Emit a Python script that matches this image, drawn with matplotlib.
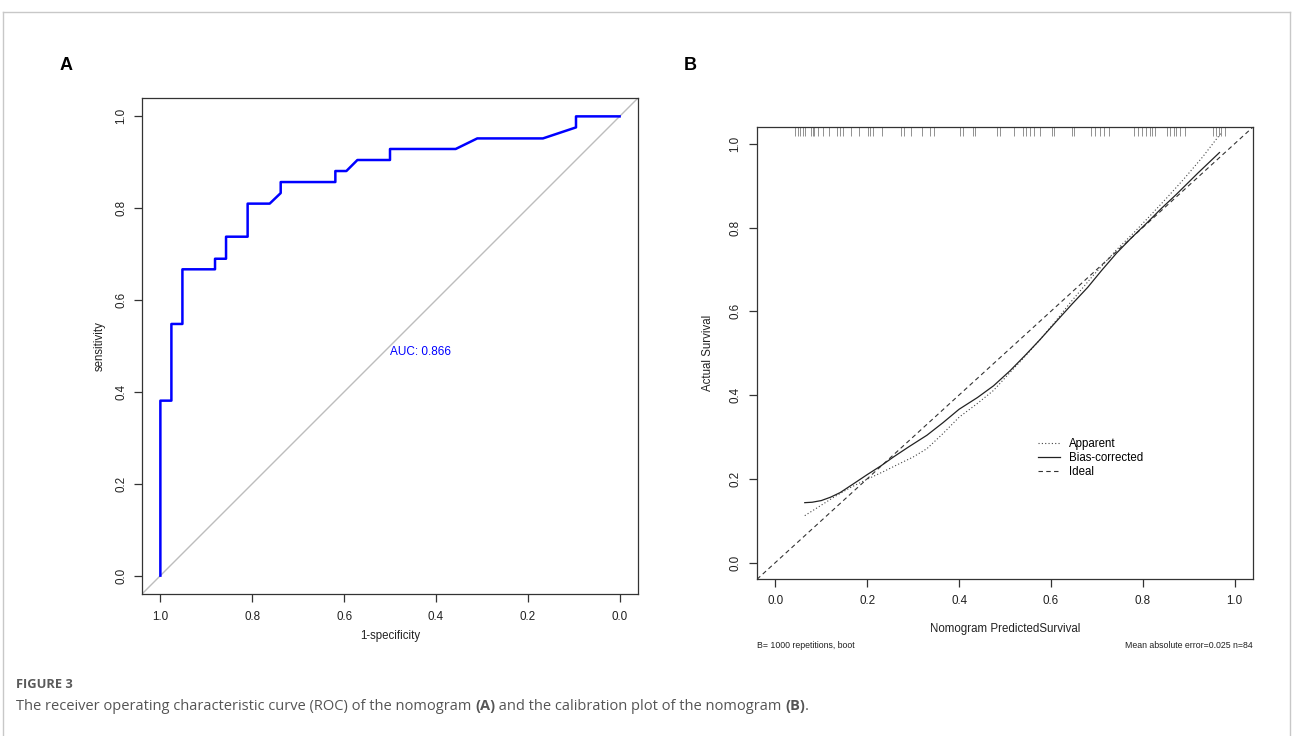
import numpy as np
import matplotlib
matplotlib.use("Agg")
import matplotlib.pyplot as plt
from matplotlib.lines import Line2D

plt.rcParams['font.family'] = ['Liberation Sans', 'DejaVu Sans']

# --- panel A: ROC curve (specificity, sensitivity), n = 42 per class ---
roc_spec = [1.0, 1.0, 0.976, 0.976, 0.952, 0.952, 0.881, 0.881, 0.857, 0.857,
            0.810, 0.810, 0.762, 0.738, 0.738, 0.619, 0.619, 0.595, 0.571,
            0.500, 0.500, 0.357, 0.310, 0.167, 0.095, 0.095, 0.0]
roc_sens = [0.0, 0.381, 0.381, 0.548, 0.548, 0.667, 0.667, 0.690, 0.690, 0.738,
            0.738, 0.810, 0.810, 0.833, 0.857, 0.857, 0.881, 0.881, 0.905,
            0.905, 0.929, 0.929, 0.952, 0.952, 0.976, 1.0, 1.0]
auc_label = "AUC: 0.866"
roc_ticks = [0.0, 0.2, 0.4, 0.6, 0.8, 1.0]

# --- panel B: calibration curves ---
apparent_x = [0.064, 0.10, 0.13, 0.165, 0.20, 0.235, 0.27, 0.30, 0.33, 0.365,
              0.40, 0.44, 0.475, 0.511, 0.545, 0.576, 0.61, 0.641, 0.69, 0.743,
              0.78, 0.815, 0.85, 0.888, 0.93, 0.97]
apparent_y = [0.112, 0.137, 0.158, 0.180, 0.199, 0.217, 0.236, 0.252, 0.272,
              0.308, 0.347, 0.380, 0.411, 0.454, 0.494, 0.532, 0.576, 0.619,
              0.683, 0.747, 0.787, 0.827, 0.868, 0.914, 0.968, 1.025]
bias_x = [0.064, 0.08, 0.10, 0.12, 0.141, 0.17, 0.20, 0.23, 0.257, 0.29, 0.33,
          0.365, 0.40, 0.44, 0.475, 0.511, 0.545, 0.576, 0.612, 0.645, 0.68,
          0.71, 0.743, 0.775, 0.81, 0.84, 0.873, 0.92, 0.967]
bias_y = [0.143, 0.144, 0.148, 0.156, 0.167, 0.188, 0.210, 0.231, 0.252, 0.276,
          0.304, 0.334, 0.366, 0.394, 0.422, 0.458, 0.496, 0.532, 0.576, 0.616,
          0.657, 0.697, 0.739, 0.775, 0.812, 0.845, 0.879, 0.930, 0.979]
rug_x = [0.043, 0.049, 0.054, 0.060, 0.065, 0.078, 0.082, 0.085, 0.092, 0.103,
         0.116, 0.135, 0.140, 0.148, 0.165, 0.183, 0.201, 0.205, 0.212, 0.232,
         0.273, 0.279, 0.295, 0.320, 0.337, 0.346, 0.402, 0.408, 0.430, 0.435,
         0.482, 0.489, 0.520, 0.540, 0.545, 0.554, 0.563, 0.576, 0.602, 0.607,
         0.645, 0.650, 0.688, 0.697, 0.707, 0.715, 0.727, 0.780, 0.790, 0.799,
         0.808, 0.815, 0.821, 0.826, 0.853, 0.860, 0.867, 0.873, 0.882, 0.893,
         0.953, 0.959, 0.965, 0.971, 0.980]
cal_ticks = [0.0, 0.2, 0.4, 0.6, 0.8, 1.0]
legend_labels = ["Apparent", "Bias-corrected", "Ideal"]

caption_parts = [("The receiver operating characteristic curve (ROC) of the nomogram ", 'normal'),
                 ("(A)", 'bold'),
                 (" and the calibration plot of the nomogram ", 'normal'),
                 ("(B)", 'bold'),
                 (".", 'normal')]

W, H = 1293, 736
fig = plt.figure(figsize=(W / 100, H / 100), dpi=100)

def px_axes(left, top, right, bottom):
    return fig.add_axes([left / W, 1 - bottom / H, (right - left) / W, (bottom - top) / H])

def r_style(ax):
    for s in ax.spines.values():
        s.set_color('#333333')
        s.set_linewidth(0.9)
    ax.tick_params(direction='out', length=5.5, width=0.9, color='#333333',
                   labelsize=8.4, labelcolor='#222222')
    for lab in ax.get_yticklabels():
        lab.set_rotation(90)
        lab.set_va('center')

# ---------- A ----------
axA = px_axes(142, 98, 638, 594)
axA.axline((1, 0), (0, 1), color='#bdbdbd', lw=1.0, zorder=1)
axA.plot(roc_spec, roc_sens, color='#0000ff', lw=1.8, zorder=2)
axA.set_xlim(1.04, -0.04)
axA.set_ylim(-0.04, 1.04)
axA.set_xticks(roc_ticks)
axA.set_yticks(roc_ticks)
axA.set_xticklabels([f"{t:.1f}" for t in roc_ticks])
axA.set_yticklabels([f"{t:.1f}" for t in roc_ticks])
r_style(axA)
axA.tick_params(axis='x', pad=7)
axA.tick_params(axis='y', pad=5)
axA.text(0.5, 0.5, auc_label, color='#0000ff', fontsize=8.5, ha='left', va='top')
axA.text(0.5, -42 / 496, "1-specificity", transform=axA.transAxes,
         ha='center', va='center', fontsize=8.3, color='#222222')
axA.text(-42 / 496, 0.5, "sensitivity", transform=axA.transAxes, rotation=90,
         ha='center', va='center', fontsize=8.3, color='#222222')

# ---------- B ----------
axB = px_axes(757, 127, 1253, 579.3)
axB.axline((0, 0), slope=1, color='#333333', lw=0.8, dashes=(4, 3))
axB.plot(apparent_x, apparent_y, color='#444444', lw=0.8, dashes=(1, 2))
axB.plot(bias_x, bias_y, color='#222222', lw=0.9)
axB.vlines(rug_x, 1 - 9 / 452, 1, transform=axB.get_xaxis_transform(),
           color='#808080', lw=0.6)
axB.set_xlim(-0.04, 1.04)
axB.set_ylim(-0.04, 1.04)
axB.set_xticks(cal_ticks)
axB.set_yticks(cal_ticks)
axB.set_xticklabels([f"{t:.1f}" for t in cal_ticks])
axB.set_yticklabels([f"{t:.1f}" for t in cal_ticks])
r_style(axB)
axB.tick_params(axis='x', pad=6)
axB.tick_params(axis='y', pad=6)

handles = [Line2D([], [], color='#444444', lw=0.8, dashes=(1, 2)),
           Line2D([], [], color='#222222', lw=0.9),
           Line2D([], [], color='#333333', lw=0.8, dashes=(4, 3))]
axB.legend(handles, legend_labels, loc='upper left', bbox_to_anchor=(0.566, 0.313),
           frameon=False, fontsize=8.3, handlelength=1.9, handletextpad=0.85,
           labelspacing=0.2, borderpad=0, borderaxespad=0)

axB.text(0.5, -50 / 452, "Nomogram PredictedSurvival", transform=axB.transAxes,
         ha='center', va='center', fontsize=8.3, color='#222222')
axB.text(-49 / 496, 0.5, "Actual Survival", transform=axB.transAxes, rotation=90,
         ha='center', va='center', fontsize=8.3, color='#222222')
axB.text(0.0, -66 / 452, "B= 1000 repetitions, boot", transform=axB.transAxes,
         ha='left', va='center', fontsize=6.3, color='#222222')
axB.text(1.0, -66 / 452, "Mean absolute error=0.025 n=84", transform=axB.transAxes,
         ha='right', va='center', fontsize=6.3, color='#222222')

# ---------- panel letters, caption, border ----------
fig.text(66 / W, 1 - 66 / H, "A", fontsize=13, fontweight='bold', ha='center', va='center')
fig.text(690 / W, 1 - 66 / H, "B", fontsize=13, fontweight='bold', ha='center', va='center')

cap_font = ['Open Sans', 'DejaVu Sans']
fig.text(16 / W, 1 - 684 / H, "FIGURE 3", fontsize=9.3, fontweight='bold',
         color='#5a5a5a', ha='left', va='center', family=cap_font)

renderer = fig.canvas.get_renderer()
x = 16 / W
for part, weight in caption_parts:
    t = fig.text(x, 1 - 706 / H, part, fontsize=10.5, fontweight=weight,
                 color='#555555', ha='left', va='center', family=cap_font)
    x += t.get_window_extent(renderer=renderer).width / W

border = '#c8c8c8'
fig.add_artist(Line2D([3 / W, 3 / W], [0, 1 - 12 / H], color=border, lw=1))
fig.add_artist(Line2D([1290 / W, 1290 / W], [0, 1 - 12 / H], color=border, lw=1))
fig.add_artist(Line2D([3 / W, 1290 / W], [1 - 12 / H, 1 - 12 / H], color=border, lw=1))

fig.savefig("out.png", dpi=100)
